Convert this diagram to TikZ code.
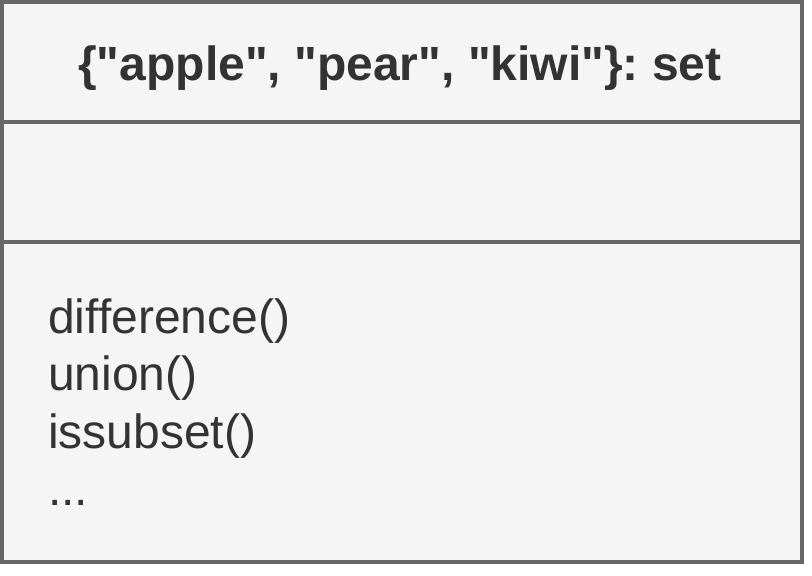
\documentclass[tikz,border=0pt]{standalone}
\usepackage{fontspec}
\setmainfont{Liberation Sans}[Ligatures=TeXOff]
\definecolor{boxfill}{HTML}{F5F5F5}
\definecolor{boxline}{HTML}{666666}
\definecolor{txt}{HTML}{333333}
\frenchspacing
\begin{document}
\begin{tikzpicture}[x=1pt,y=1pt,
  titletext/.style={anchor=base,inner sep=0pt,text=txt,font=\fontsize{48}{57.6}\selectfont\bfseries},
  bodytext/.style={anchor=base west,inner sep=0pt,text=txt,font=\fontsize{48}{57.6}\selectfont},
  frame/.style={draw=boxline,line width=4pt}]
\useasboundingbox (0,0) rectangle (812,-576);
\draw[frame,fill=boxfill] (2,-2) rectangle (802,-562);
\coordinate (d1l) at (4,-122);
\coordinate (d1r) at (800,-122);
\coordinate (d2l) at (4,-242);
\coordinate (d2r) at (800,-242);
\draw[frame] (d1l) -- (d1r);
\draw[frame] (d2l) -- (d2r);
\node[titletext] (title) at (400,-80) {\{"apple", "pear", "kiwi"\}: set};
\node[bodytext] (m1) at (48,-333) {difference()};
\node[bodytext] (m2) at (48,-390.6) {union()};
\node[bodytext] (m3) at (48,-448.2) {issubset()};
\node[bodytext] (m4) at (48,-505.8) {...};
\end{tikzpicture}
\end{document}
